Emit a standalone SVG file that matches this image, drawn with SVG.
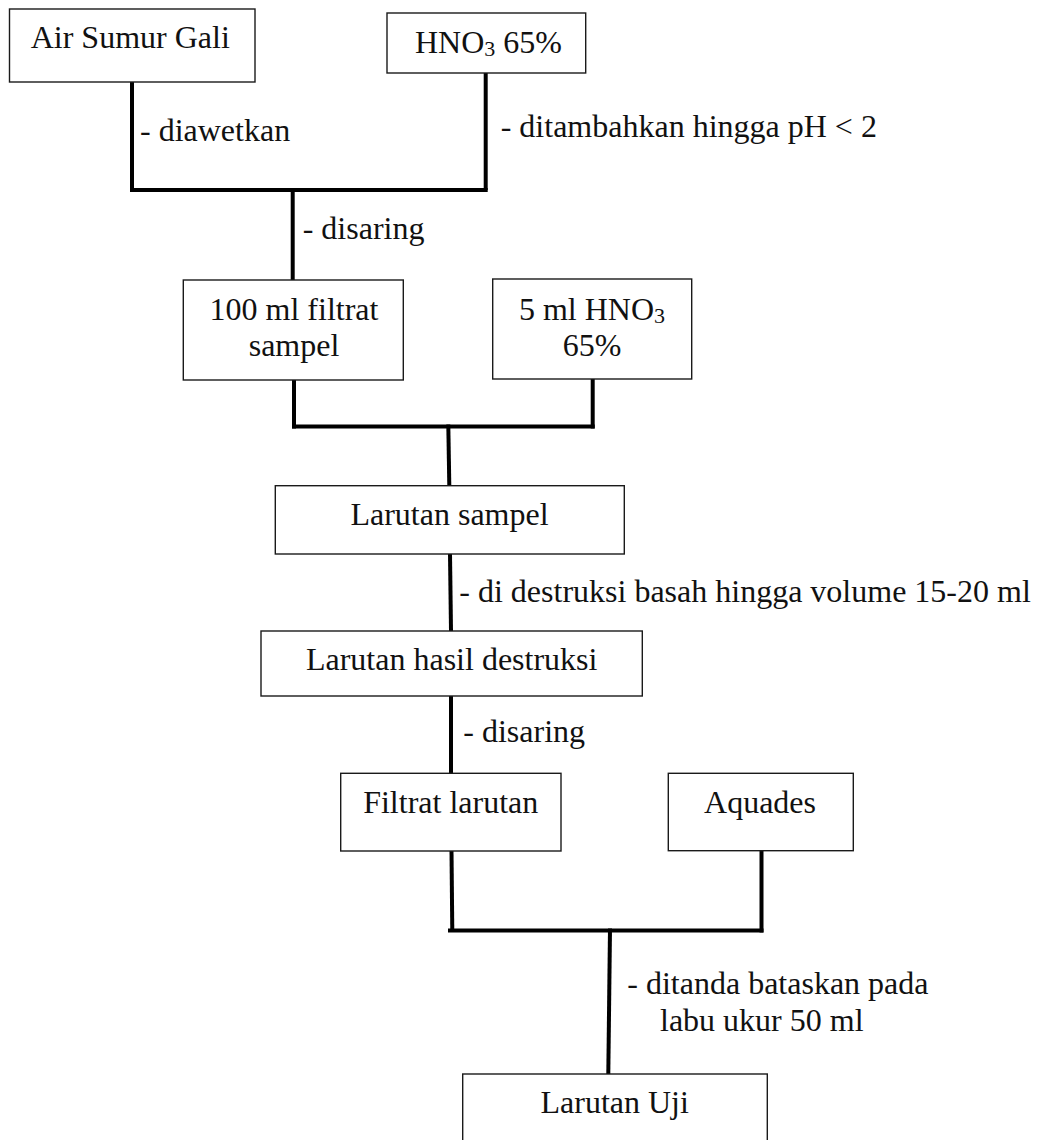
<svg xmlns="http://www.w3.org/2000/svg" width="1038" height="1140" viewBox="0 0 1038 1140">
<style>
.box{fill:#ffffff;stroke:#1a1a1a;stroke-width:1.4}
.t{font-family:"Liberation Serif","Times New Roman",serif;font-size:32px;fill:#111}
.m{text-anchor:middle}
.sub{font-size:22px}
.c{fill:none;stroke:#000;stroke-width:4;stroke-linecap:butt}
</style>
<rect width="1038" height="1140" fill="#ffffff"/>
<g id="connectors">
<path class="c" d="M132 82 V190"/>
<path class="c" d="M485.7 73 V190"/>
<path class="c" d="M130 190 H487.7"/>
<path class="c" d="M292.7 188 V280"/>
<path class="c" d="M294 380 V428.5"/>
<path class="c" d="M592.7 379 V428.5"/>
<path class="c" d="M292 426.5 H594.7"/>
<path class="c" d="M448.3 424.5 L449.3 485.7"/>
<path class="c" d="M450 554 L451 631"/>
<path class="c" d="M451 696 V773.3"/>
<path class="c" d="M451.5 851 L452.3 932"/>
<path class="c" d="M761.5 851 V932.5"/>
<path class="c" d="M448 930.5 H763.5"/>
<path class="c" d="M610 928.5 L608.3 1074"/>
<text class="t" x="140" y="141">- diawetkan</text>
<text class="t" x="500.7" y="137">- ditambahkan hingga pH &lt; 2</text>
<text class="t" x="302.7" y="239">- disaring</text>
<text class="t" x="459.3" y="601.7">- di destruksi basah hingga volume 15-20 ml</text>
<text class="t" x="463.3" y="741.7">- disaring</text>
<text class="t" x="627.3" y="994">- ditanda bataskan pada</text>
<text class="t" x="660" y="1030.5">labu ukur 50 ml</text>
</g>
<g id="node-air-sumur-gali">
<rect class="box" x="9.5" y="9" width="245.5" height="73"/>
<text class="t" x="30.7" y="48">Air Sumur Gali</text>
</g>
<g id="node-hno3-65">
<rect class="box" x="387" y="13" width="198.7" height="60"/>
<text class="t" x="415" y="53">HNO<tspan class="sub" dy="3">3</tspan><tspan dy="-3"> 65%</tspan></text>
</g>
<g id="node-filtrat-sampel">
<rect class="box" x="183.3" y="280" width="220" height="100"/>
<text class="t m" x="294" y="320">100 ml filtrat</text>
<text class="t m" x="294" y="356">sampel</text>
</g>
<g id="node-5ml-hno3">
<rect class="box" x="492.7" y="279" width="199" height="100"/>
<text class="t m" x="592" y="320">5 ml HNO<tspan class="sub" dy="3">3</tspan></text>
<text class="t m" x="592" y="356">65%</text>
</g>
<g id="node-larutan-sampel">
<rect class="box" x="275.3" y="485.7" width="349" height="68.3"/>
<text class="t m" x="449.5" y="525">Larutan sampel</text>
</g>
<g id="node-larutan-hasil-destruksi">
<rect class="box" x="261" y="631" width="381.3" height="65"/>
<text class="t m" x="451.7" y="670">Larutan hasil destruksi</text>
</g>
<g id="node-filtrat-larutan">
<rect class="box" x="340.7" y="773.3" width="220.3" height="77.7"/>
<text class="t m" x="450.7" y="812.7">Filtrat larutan</text>
</g>
<g id="node-aquades">
<rect class="box" x="668.3" y="773.3" width="185" height="77.4"/>
<text class="t m" x="760" y="812.7">Aquades</text>
</g>
<g id="node-larutan-uji">
<rect class="box" x="462.7" y="1074" width="304.6" height="90"/>
<text class="t m" x="614.7" y="1113">Larutan Uji</text>
</g>
</svg>
